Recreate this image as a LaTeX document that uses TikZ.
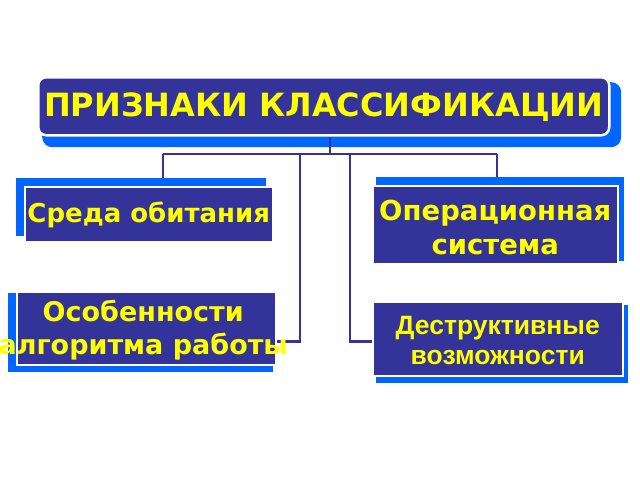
\documentclass[tikz,border=0pt]{standalone}
\usepackage{fontspec}
\newfontfamily\dvs{DejaVu Sans}
\newfontfamily\las{Liberation Sans}
\definecolor{boxblue}{HTML}{333399}
\definecolor{shadblue}{HTML}{0066FF}
\definecolor{txtyellow}{HTML}{FFFF00}
\begin{document}
\begin{tikzpicture}[x=1pt,y=-1pt,
 box/.style={draw=white,line width=1.5pt,fill=boxblue,inner sep=0,anchor=north west},
 shad/.style={fill=shadblue,inner sep=0,anchor=north west},
 conn/.style={draw=boxblue,line width=2.6pt},
 lbl/.style={text=txtyellow,align=center,inner sep=0},
]
\useasboundingbox[fill=white] (0,0) rectangle (640,480);
% title
\node[shad, rounded corners=10pt, minimum width=579pt, minimum height=65pt] (ts) at (42,82) {};
\node[box, rounded corners=8pt, line width=2.5pt, minimum width=571pt, minimum height=58pt] (t) at (37,76) {};
% shadows
\node[shad, minimum width=250pt, minimum height=58pt] (as) at (16,178) {};
\node[shad, minimum width=248pt, minimum height=84pt] (bs) at (376,177) {};
\node[shad, minimum width=265pt, minimum height=79pt] (cs) at (8,293) {};
\node[shad, minimum width=252pt, minimum height=78pt] (ds) at (376,305) {};
% boxes
\node[box, minimum width=248pt, minimum height=55pt] (a) at (24,186) {};
\node[box, minimum width=245pt, minimum height=78pt] (b) at (372,185) {};
\node[box, minimum width=259pt, minimum height=73pt] (c) at (16,291) {};
\node[box, minimum width=250pt, minimum height=74pt] (d) at (372,301) {};
% connectors
\coordinate (bar) at (330,154);
\coordinate (jl) at (163,154);
\coordinate (jr) at (497,154);
\coordinate (j1) at (300,154);
\coordinate (j2) at (350,154);
\draw[conn] (bar |- t.south) -- (bar);
\draw[conn] (jl) -- (jr);
\draw[conn] (jl) -- (jl |- as.north);
\draw[conn] (jr) -- (jr |- bs.north);
\draw[conn] (j1) |- ([yshift=-13.5pt]c.east);
\draw[conn] (j2) |- ([yshift=-3pt]d.west);
% labels
\node[lbl, font=\dvs\bfseries\fontsize{32}{38}\selectfont] (tt) at ([yshift=-1pt]t.center) {ПРИЗНАКИ КЛАССИФИКАЦИИ};
\node[lbl, font=\dvs\bfseries\fontsize{26}{30}\selectfont] (at) at ([yshift=-1pt]a.center) {Среда обитания};
\node[lbl, font=\dvs\bfseries\fontsize{27.5}{34}\selectfont] (bt) at ([yshift=-3pt]b.center) {Операционная\\система};
\node[lbl, font=\dvs\bfseries\fontsize{27}{33}\selectfont] (ct) at ([xshift=-3pt,yshift=-2pt]c.center) {Особенности\\алгоритма работы};
\node[lbl, font=\las\bfseries\fontsize{26.5}{30}\selectfont] (dt) at ([yshift=-2pt]d.center) {Деструктивные\\возможности};
\end{tikzpicture}
\end{document}
